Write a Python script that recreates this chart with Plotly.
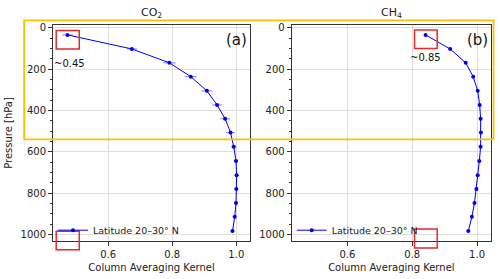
import plotly.graph_objects as go

pressure = [34, 102, 169, 236, 305, 373, 440, 507, 576, 644, 713, 780, 848, 915, 984]
co2_ak = [0.473, 0.674, 0.791, 0.858, 0.908, 0.940, 0.965, 0.982, 0.992, 0.999, 1.001, 1.000, 0.999, 0.995, 0.988]
co2_err = [0.017, 0.016, 0.019, 0.019, 0.017, 0.016, 0.015, 0.013, 0.008, 0.006, 0.006, 0.006, 0.006, 0.006, 0.007]
ch4_ak = [0.841, 0.917, 0.965, 0.988, 1.002, 1.008, 1.011, 1.012, 1.011, 1.007, 1.002, 0.998, 0.992, 0.984, 0.973]
ch4_err = [0.004, 0.004, 0.004, 0.004, 0.003, 0.003, 0.003, 0.003, 0.003, 0.003, 0.003, 0.003, 0.003, 0.003, 0.003]
legend_label = "Latitude 20–30° N"
panel_titles = ["CO<sub>2</sub>", "CH<sub>4</sub>"]
panel_letters = ["(a)", "(b)"]
notes = ["~0.45", "~0.85"]

FONT = "DejaVu Sans"
BLUE = "#0000ee"
ERR = "rgba(110,110,255,0.75)"

fig = go.Figure()

fig.add_trace(go.Scatter(
    x=co2_ak, y=pressure, mode="lines+markers", name=legend_label,
    line=dict(color=BLUE, width=1), marker=dict(color=BLUE, size=4),
    error_x=dict(type="data", array=co2_err, color=ERR, thickness=1.2, width=0),
    xaxis="x", yaxis="y", legend="legend", showlegend=True))
fig.add_trace(go.Scatter(
    x=ch4_ak, y=pressure, mode="lines+markers", name=legend_label,
    line=dict(color=BLUE, width=1), marker=dict(color=BLUE, size=4),
    error_x=dict(type="data", array=ch4_err, color=ERR, thickness=1.2, width=0),
    xaxis="x2", yaxis="y2", legend="legend2", showlegend=True))

xcommon = dict(range=[0.428, 1.043], tickvals=[0.6, 0.8, 1.0], ticktext=["0.6", "0.8", "1.0"],
               showgrid=True, gridcolor="#dedede", gridwidth=1,
               showline=True, linecolor="#333", linewidth=1, mirror=True,
               ticks="outside", ticklen=4, tickcolor="#333",
               tickfont=dict(family=FONT, size=10, color="#222"),
               title=dict(text="Column Averaging Kernel", font=dict(family=FONT, size=10, color="#222"), standoff=4),
               zeroline=False)
ycommon = dict(range=[1032, -14], tickvals=[0, 200, 400, 600, 800, 1000],
               showgrid=True, gridcolor="#dedede", gridwidth=1,
               showline=True, linecolor="#333", linewidth=1, mirror=True,
               ticks="outside", ticklen=4, tickcolor="#333",
               tickfont=dict(family=FONT, size=10, color="#222"),
               minor=dict(dtick=50, ticks="outside", ticklen=2, tickcolor="#333", showgrid=False),
               zeroline=False)

fig.update_layout(
    width=500, height=279,
    margin=dict(l=52, r=8, t=25, b=35),
    paper_bgcolor="white", plot_bgcolor="white",
    font=dict(family=FONT, size=10, color="#222"),
    xaxis=dict(domain=[0, 0.45], anchor="y", **xcommon),
    yaxis=dict(domain=[0, 1], anchor="x",
               title=dict(text="Pressure [hPa]", font=dict(family=FONT, size=10, color="#222"), standoff=6),
               **ycommon),
    xaxis2=dict(domain=[0.545, 1], anchor="y2", **xcommon),
    yaxis2=dict(domain=[0, 1], anchor="x2", **ycommon),
    legend=dict(x=0.0, y=0.05, xanchor="left", yanchor="middle", bgcolor="rgba(0,0,0,0)",
                font=dict(family=FONT, size=9.5, color="#222"), itemwidth=30),
    legend2=dict(x=0.545, y=0.05, xanchor="left", yanchor="middle", bgcolor="rgba(0,0,0,0)",
                 font=dict(family=FONT, size=9.5, color="#222"), itemwidth=30),
)

# panel titles
fig.add_annotation(text=panel_titles[0], xref="x domain", yref="paper", x=0.5, y=1.0, yshift=21,
                   showarrow=False, font=dict(family=FONT, size=11, color="#222"))
fig.add_annotation(text=panel_titles[1], xref="x2 domain", yref="paper", x=0.5, y=1.0, yshift=21,
                   showarrow=False, font=dict(family=FONT, size=11, color="#222"))
# panel letters
fig.add_annotation(text=panel_letters[0], xref="x domain", yref="y domain", x=0.995, y=0.93,
                   xanchor="right", yanchor="middle", showarrow=False, font=dict(family=FONT, size=15, color="#111"))
fig.add_annotation(text=panel_letters[1], xref="x2 domain", yref="y2 domain", x=0.995, y=0.93,
                   xanchor="right", yanchor="middle", showarrow=False, font=dict(family=FONT, size=15, color="#111"))
# notes
fig.add_annotation(text=notes[0], xref="x", yref="y", x=0.478, y=170, showarrow=False,
                   font=dict(family=FONT, size=10, color="#111"))
fig.add_annotation(text=notes[1], xref="x2", yref="y2", x=0.842, y=145, showarrow=False,
                   font=dict(family=FONT, size=10, color="#111"))

# red highlight boxes
red = dict(color="#e8282a", width=1.5)
fig.add_shape(type="rect", xref="x", yref="y", x0=0.438, x1=0.510, y0=13, y1=102, line=red)
fig.add_shape(type="rect", xref="x2", yref="y2", x0=0.807, x1=0.877, y0=10, y1=100, line=red)
fig.add_shape(type="rect", xref="x", yref="paper", x0=0.438, x1=0.510, y0=-0.041, y1=0.0457, line=red)
fig.add_shape(type="rect", xref="x2", yref="paper", x0=0.807, x1=0.877, y0=-0.032, y1=0.055, line=red)

# yellow outline box
fig.add_shape(type="rect", xref="paper", yref="paper", x0=-0.0659, x1=1.0057, y0=0.4703, y1=1.0215,
              line=dict(color="#ffc000", width=1.8))

fig.write_html("out.html", config={"displayModeBar": False},
               post_script="document.body.style.margin='0';")
